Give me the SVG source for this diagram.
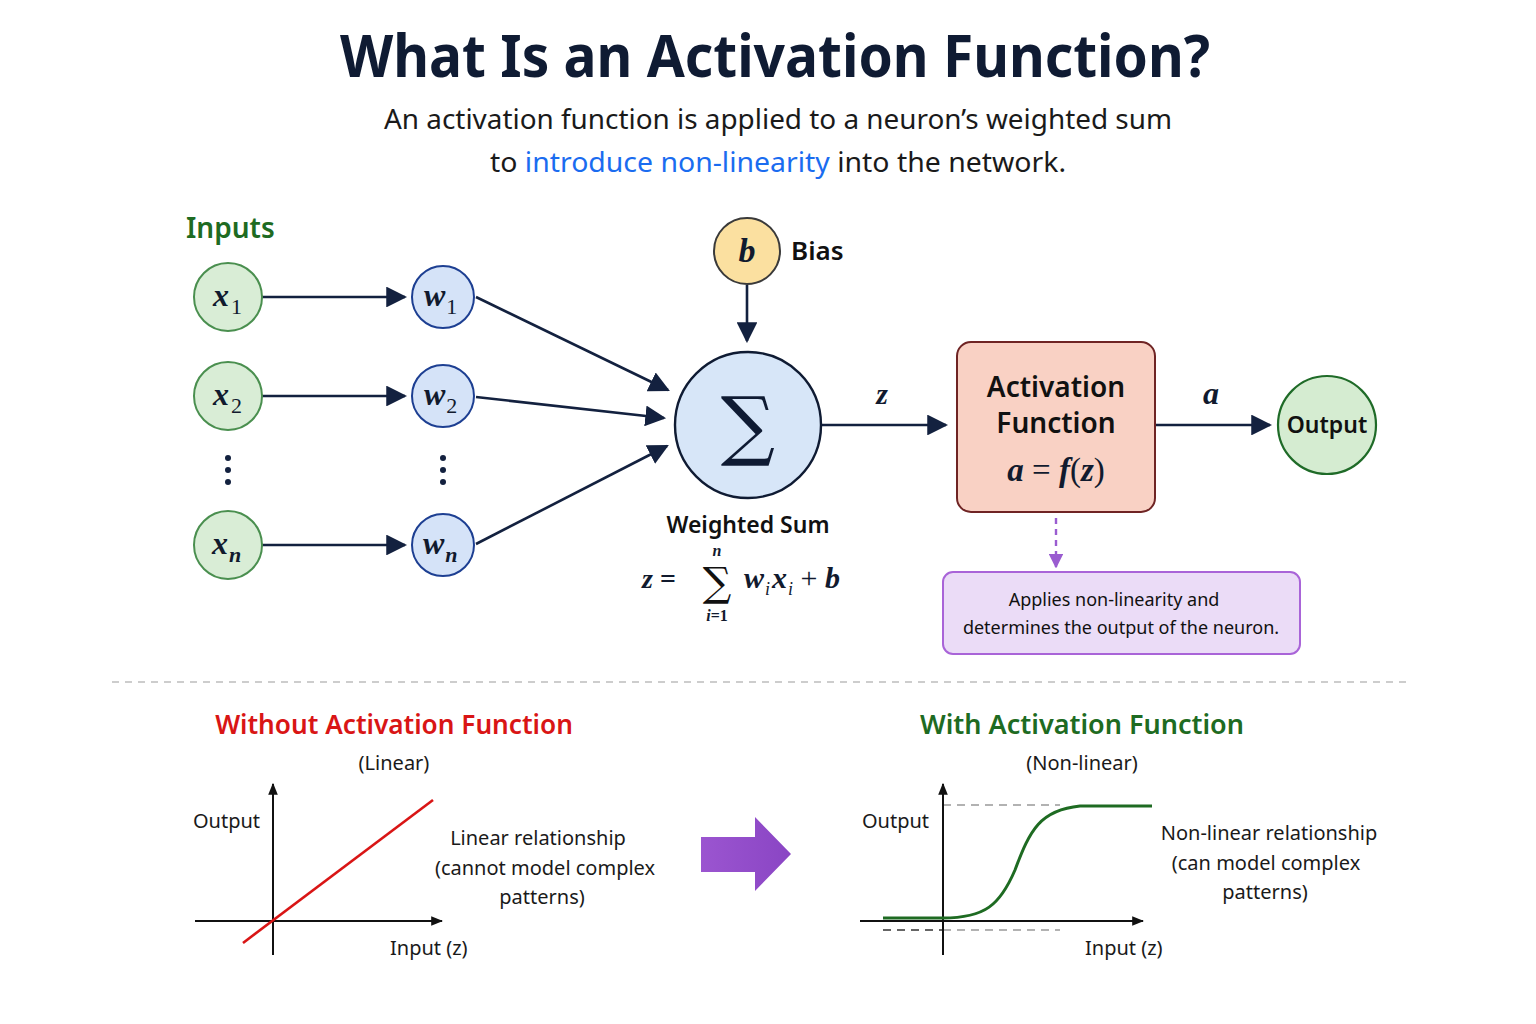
<svg xmlns="http://www.w3.org/2000/svg" width="1536" height="1024" viewBox="0 0 1536 1024">
<defs>
<style>
.sans{font-family:"Noto Sans","Open Sans","Liberation Sans",sans-serif;}
.math{font-family:"Liberation Serif","DejaVu Serif",serif;font-style:italic;font-weight:bold;fill:#111a2e;}
.sub{font-family:"Liberation Serif","DejaVu Serif",serif;font-style:normal;font-weight:normal;}
.conn{stroke:#13213f;stroke-width:2.6;fill:none;}
.xn{fill:#d9edd6;stroke:#4a8f4f;stroke-width:2;}
.wn{fill:#d5e3f8;stroke:#1d3f92;stroke-width:2;}
.axis{stroke:#111;stroke-width:2;fill:none;}
.lbl{font-family:"Noto Sans","Open Sans","Liberation Sans",sans-serif;font-size:20px;fill:#1a1a1a;}
</style>
<marker id="ahb" viewBox="0 0 10 10" refX="9" refY="5" markerWidth="8" markerHeight="8" orient="auto">
<path d="M0,0 L10,5 L0,10 z" fill="#13213f"/>
</marker>
<marker id="ahp" viewBox="0 0 10 10" refX="9" refY="5" markerWidth="6" markerHeight="6" orient="auto">
<path d="M0,0 L10,5 L0,10 z" fill="#9a5cd0"/>
</marker>
<marker id="aha" viewBox="0 0 10 10" refX="9" refY="5" markerWidth="6" markerHeight="6" orient="auto">
<path d="M0,1 L10,5 L0,9 z" fill="#111"/>
</marker>
<linearGradient id="pg" x1="0" y1="0" x2="1" y2="0">
<stop offset="0" stop-color="#9b55d0"/>
<stop offset="1" stop-color="#8a45c4"/>
</linearGradient>
</defs>
<rect width="1536" height="1024" fill="#ffffff"/>

<g id="title">
<text x="775" y="77" text-anchor="middle" class="sans" font-size="60" font-weight="bold" fill="#0f1b33" textLength="870" lengthAdjust="spacingAndGlyphs">What Is an Activation Function?</text>
<text x="778" y="129" text-anchor="middle" class="sans" font-size="28" fill="#1a1a1a" textLength="788" lengthAdjust="spacingAndGlyphs">An activation function is applied to a neuron’s weighted sum</text>
<text x="778" y="172" text-anchor="middle" class="sans" font-size="28" fill="#1a1a1a" textLength="576" lengthAdjust="spacingAndGlyphs">to <tspan fill="#1a6cf0">introduce non-linearity</tspan> into the network.</text>
</g>

<g id="connectors">
<line x1="262" y1="297" x2="405" y2="297" class="conn" marker-end="url(#ahb)"/>
<line x1="262" y1="396" x2="405" y2="396" class="conn" marker-end="url(#ahb)"/>
<line x1="262" y1="545" x2="405" y2="545" class="conn" marker-end="url(#ahb)"/>
<line x1="476" y1="297" x2="668" y2="390" class="conn" marker-end="url(#ahb)"/>
<line x1="476" y1="397" x2="664" y2="418" class="conn" marker-end="url(#ahb)"/>
<line x1="476" y1="544" x2="667" y2="446" class="conn" marker-end="url(#ahb)"/>
<line x1="747" y1="285" x2="747" y2="341" class="conn" marker-end="url(#ahb)"/>
<line x1="821" y1="425" x2="946" y2="425" class="conn" marker-end="url(#ahb)"/>
<line x1="1155" y1="425" x2="1270" y2="425" class="conn" marker-end="url(#ahb)"/>
<line x1="1056" y1="518" x2="1056" y2="567" stroke="#9a5cd0" stroke-width="2.4" stroke-dasharray="6,5" marker-end="url(#ahp)"/>
<text x="882" y="404" text-anchor="middle" class="math" font-size="30">z</text>
<text x="1211" y="404" text-anchor="middle" class="math" font-size="32">a</text>
</g>

<g id="inputs-label">
<text x="186" y="238" class="sans" font-size="28" font-weight="600" fill="#1e6b22">Inputs</text>
</g>

<g id="node-x1">
<circle cx="228" cy="297" r="34" class="xn"/>
<text x="213" y="306" class="math" font-size="32">x<tspan class="sub" font-size="22" dx="2" dy="8">1</tspan></text>
</g>
<g id="node-x2">
<circle cx="228" cy="396" r="34" class="xn"/>
<text x="213" y="405" class="math" font-size="32">x<tspan class="sub" font-size="22" dx="2" dy="8">2</tspan></text>
</g>
<g id="node-xn">
<circle cx="228" cy="545" r="34" class="xn"/>
<text x="212" y="554" class="math" font-size="32">x<tspan font-size="22" dx="1" dy="8">n</tspan></text>
</g>
<g id="dots">
<circle cx="228" cy="458" r="3" fill="#13213f"/><circle cx="228" cy="470" r="3" fill="#13213f"/><circle cx="228" cy="482" r="3" fill="#13213f"/>
<circle cx="443" cy="458" r="3" fill="#13213f"/><circle cx="443" cy="470" r="3" fill="#13213f"/><circle cx="443" cy="482" r="3" fill="#13213f"/>
</g>
<g id="node-w1">
<circle cx="443" cy="297" r="31" class="wn"/>
<text x="424" y="306" class="math" font-size="32">w<tspan class="sub" font-size="22" dx="1" dy="8">1</tspan></text>
</g>
<g id="node-w2">
<circle cx="443" cy="396" r="31" class="wn"/>
<text x="424" y="405" class="math" font-size="32">w<tspan class="sub" font-size="22" dx="1" dy="8">2</tspan></text>
</g>
<g id="node-wn">
<circle cx="443" cy="545" r="31" class="wn"/>
<text x="423" y="554" class="math" font-size="32">w<tspan font-size="22" dx="1" dy="8">n</tspan></text>
</g>

<g id="node-bias">
<circle cx="747" cy="251" r="33" fill="#fbe0a0" stroke="#3a3a3a" stroke-width="2"/>
<text x="747" y="262" text-anchor="middle" class="math" font-size="34">b</text>
<text x="791" y="260" class="sans" font-size="26" font-weight="600" fill="#111">Bias</text>
</g>

<g id="node-sum">
<circle cx="748" cy="425" r="73" fill="#d7e6f8" stroke="#0f1b33" stroke-width="2.4"/>
<text x="748" y="451" text-anchor="middle" font-family="'DejaVu Serif','Liberation Serif',serif" font-size="76" fill="#0f1b33">∑</text>
<text x="748" y="533" text-anchor="middle" class="sans" font-size="23" font-weight="600" fill="#111">Weighted Sum</text>
</g>

<g id="formula">
<text x="642" y="588" class="math" font-size="28" font-weight="normal">z <tspan font-style="normal">=</tspan></text>
<text x="717" y="596" text-anchor="middle" font-family="'DejaVu Serif','Liberation Serif',serif" font-size="40" fill="#111">∑</text>
<text x="717" y="556" text-anchor="middle" class="math" font-size="16" font-weight="normal">n</text>
<text x="717" y="621" text-anchor="middle" class="math" font-size="16" font-weight="normal">i<tspan font-style="normal">=1</tspan></text>
<text x="744" y="588" class="math" font-size="30">w<tspan font-size="18" font-weight="normal" dx="1" dy="7">i</tspan><tspan dx="2" dy="-7">x</tspan><tspan font-size="18" font-weight="normal" dx="1" dy="7">i</tspan><tspan dy="-7" font-style="normal" font-weight="normal"> + </tspan>b</text>
</g>

<g id="node-activation">
<rect x="957" y="342" width="198" height="170" rx="14" fill="#f9d1c4" stroke="#6f2424" stroke-width="2"/>
<text x="1056" y="397" text-anchor="middle" class="sans" font-size="28" font-weight="600" fill="#111">Activation</text>
<text x="1056" y="433" text-anchor="middle" class="sans" font-size="28" font-weight="600" fill="#111">Function</text>
<text x="1056" y="481" text-anchor="middle" class="math" font-size="33">a <tspan font-style="normal" font-weight="normal">= </tspan>f<tspan font-style="normal" font-weight="normal">(</tspan>z<tspan font-style="normal" font-weight="normal">)</tspan></text>
</g>

<g id="node-output">
<circle cx="1327" cy="425" r="49" fill="#d5ecd1" stroke="#1f6b28" stroke-width="2.2"/>
<text x="1327" y="433" text-anchor="middle" class="sans" font-size="23" font-weight="600" fill="#111">Output</text>
</g>

<g id="node-note">
<rect x="943" y="572" width="357" height="82" rx="10" fill="#ebdcf7" stroke="#a964d8" stroke-width="2"/>
<text x="1114" y="606" text-anchor="middle" class="sans" font-size="18" fill="#111">Applies non-linearity and</text>
<text x="1121" y="634" text-anchor="middle" class="sans" font-size="18" fill="#111">determines the output of the neuron.</text>
</g>

<line x1="112" y1="682" x2="1412" y2="682" stroke="#bdbdbd" stroke-width="1.6" stroke-dasharray="7,6"/>

<g id="panel-linear">
<text x="394" y="734" text-anchor="middle" class="sans" font-size="26.2" font-weight="600" fill="#d91515">Without Activation Function</text>
<text x="394" y="770" text-anchor="middle" class="lbl" font-size="23">(Linear)</text>
<line x1="273" y1="955" x2="273" y2="784" class="axis" marker-end="url(#aha)"/>
<line x1="195" y1="921" x2="442" y2="921" class="axis" marker-end="url(#aha)"/>
<line x1="243" y1="943" x2="433" y2="800" stroke="#d91515" stroke-width="2.6"/>
<text x="193" y="828" class="lbl">Output</text>
<text x="390" y="955" class="lbl">Input (z)</text>
<text x="538" y="845" text-anchor="middle" class="lbl">Linear relationship</text>
<text x="545" y="875" text-anchor="middle" class="lbl">(cannot model complex</text>
<text x="542" y="904" text-anchor="middle" class="lbl">patterns)</text>
</g>

<g id="transition-arrow">
<path d="M701,837 L755,837 L755,817 L791,854 L755,891 L755,872 L701,872 z" fill="url(#pg)"/>
</g>

<g id="panel-nonlinear">
<text x="1082" y="734" text-anchor="middle" class="sans" font-size="27" font-weight="600" fill="#1e6b22">With Activation Function</text>
<text x="1082" y="770" text-anchor="middle" class="lbl" font-size="23">(Non-linear)</text>
<line x1="943" y1="805" x2="1060" y2="805" stroke="#999" stroke-width="1.6" stroke-dasharray="8,6"/>
<line x1="883" y1="930" x2="943" y2="930" stroke="#333" stroke-width="1.6" stroke-dasharray="8,6"/>
<line x1="943" y1="930" x2="1060" y2="930" stroke="#999" stroke-width="1.6" stroke-dasharray="8,6"/>
<line x1="943" y1="955" x2="943" y2="784" class="axis" marker-end="url(#aha)"/>
<line x1="860" y1="921" x2="1143" y2="921" class="axis" marker-end="url(#aha)"/>
<path d="M883,918 L943,918 C985,918 1000,905 1015,870 C1030,830 1040,810 1080,806 L1152,806" stroke="#1e6b22" stroke-width="3" fill="none"/>
<text x="862" y="828" class="lbl">Output</text>
<text x="1085" y="955" class="lbl">Input (z)</text>
<text x="1269" y="840" text-anchor="middle" class="lbl">Non-linear relationship</text>
<text x="1266" y="870" text-anchor="middle" class="lbl">(can model complex</text>
<text x="1265" y="899" text-anchor="middle" class="lbl">patterns)</text>
</g>
</svg>
